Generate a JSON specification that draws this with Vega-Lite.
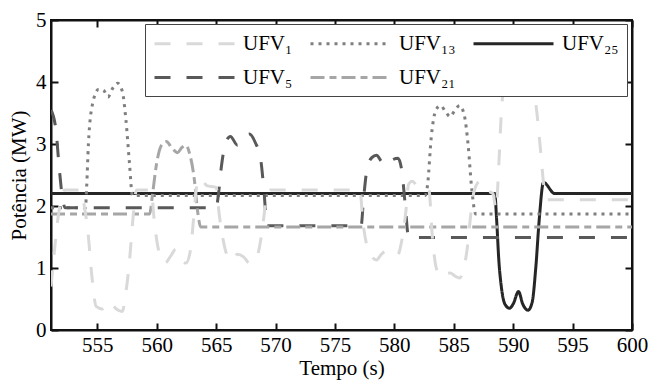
{
  "$schema": "https://vega.github.io/schema/vega-lite/v6.json",
  "width": 581,
  "height": 310,
  "autosize": {"type": "none"},
  "padding": {"left": 51, "top": 20, "right": 19, "bottom": 53},
  "background": "white",
  "title": {"text": "(a)", "font": "Liberation Serif", "fontSize": 21, "fontWeight": "normal", "color": "black", "anchor": "middle", "dx": -20, "offset": 6, "baseline": "alphabetic"},
  "config": {
    "view": {"stroke": null},
    "font": "Liberation Serif",
    "axis": {"grid": false, "labelFlush": false, "labelFont": "Liberation Serif", "titleFont": "Liberation Serif", "labelFontSize": 21, "titleFontSize": 21, "titleFontWeight": "normal", "labelColor": "black", "titleColor": "black", "domainColor": "#111", "domainWidth": 2, "tickColor": "#111", "tickWidth": 2, "tickSize": -7},
    "legend": {"orient": "none", "legendX": 94, "legendY": 4, "columns": 3, "direction": "horizontal", "title": null, "fillColor": "white", "strokeColor": "#444", "padding": 8, "symbolType": "M-1,0H7", "symbolSize": 400, "symbolOffset": 0, "symbolStrokeWidth": 3, "labelFont": "Liberation Serif", "labelFontSize": 21, "labelColor": "black", "labelOffset": 67, "columnPadding": 11, "rowPadding": 12, "labelLimit": 200}
  },
  "data": {"values": [
    {"s":"UFV₂₅","t":551.1,"v":2.2},{"s":"UFV₂₅","t":588.45,"v":2.2},{"s":"UFV₂₅","t":588.6,"v":1.8},{"s":"UFV₂₅","t":588.8,"v":1.1},{"s":"UFV₂₅","t":589.0,"v":0.7},{"s":"UFV₂₅","t":589.3,"v":0.42},{"s":"UFV₂₅","t":589.7,"v":0.35},{"s":"UFV₂₅","t":590.0,"v":0.42},{"s":"UFV₂₅","t":590.45,"v":0.62},{"s":"UFV₂₅","t":590.8,"v":0.42},{"s":"UFV₂₅","t":591.25,"v":0.32},{"s":"UFV₂₅","t":591.6,"v":0.45},{"s":"UFV₂₅","t":591.9,"v":1.0},{"s":"UFV₂₅","t":592.2,"v":1.8},{"s":"UFV₂₅","t":592.55,"v":2.38},{"s":"UFV₂₅","t":593.5,"v":2.2},{"s":"UFV₂₅","t":600,"v":2.2},

    {"s":"UFV₁₃","t":551.1,"v":1.97},{"s":"UFV₁₃","t":554.0,"v":1.97},{"s":"UFV₁₃","t":554.1,"v":2.3},{"s":"UFV₁₃","t":554.25,"v":3.0},{"s":"UFV₁₃","t":554.6,"v":3.65},{"s":"UFV₁₃","t":555.1,"v":3.88},{"s":"UFV₁₃","t":555.5,"v":3.87},{"s":"UFV₁₃","t":555.9,"v":3.76},{"s":"UFV₁₃","t":556.3,"v":3.9},{"s":"UFV₁₃","t":556.7,"v":3.98},{"s":"UFV₁₃","t":557.1,"v":3.85},{"s":"UFV₁₃","t":557.4,"v":3.4},{"s":"UFV₁₃","t":557.7,"v":2.7},{"s":"UFV₁₃","t":557.95,"v":2.17},{"s":"UFV₁₃","t":582.6,"v":2.17},{"s":"UFV₁₃","t":582.8,"v":2.35},{"s":"UFV₁₃","t":583.1,"v":3.1},{"s":"UFV₁₃","t":583.5,"v":3.55},{"s":"UFV₁₃","t":583.9,"v":3.62},{"s":"UFV₁₃","t":584.3,"v":3.52},{"s":"UFV₁₃","t":584.7,"v":3.44},{"s":"UFV₁₃","t":585.1,"v":3.55},{"s":"UFV₁₃","t":585.5,"v":3.62},{"s":"UFV₁₃","t":585.9,"v":3.45},{"s":"UFV₁₃","t":586.2,"v":3.0},{"s":"UFV₁₃","t":586.5,"v":2.3},{"s":"UFV₁₃","t":586.85,"v":1.87},{"s":"UFV₁₃","t":600,"v":1.87},

    {"s":"UFV₅","t":551.1,"v":3.55},{"s":"UFV₅","t":551.5,"v":3.25},{"s":"UFV₅","t":551.8,"v":2.6},{"s":"UFV₅","t":552.05,"v":2.15},{"s":"UFV₅","t":552.3,"v":1.97},{"s":"UFV₅","t":565.0,"v":1.97},{"s":"UFV₅","t":565.2,"v":2.2},{"s":"UFV₅","t":565.45,"v":2.65},{"s":"UFV₅","t":565.8,"v":3.02},{"s":"UFV₅","t":566.2,"v":3.12},{"s":"UFV₅","t":566.8,"v":2.98},{"s":"UFV₅","t":567.3,"v":3.1},{"s":"UFV₅","t":567.8,"v":3.16},{"s":"UFV₅","t":568.3,"v":3.02},{"s":"UFV₅","t":568.75,"v":2.75},{"s":"UFV₅","t":569.0,"v":2.3},{"s":"UFV₅","t":569.3,"v":1.68},{"s":"UFV₅","t":577.2,"v":1.68},{"s":"UFV₅","t":577.4,"v":2.1},{"s":"UFV₅","t":577.7,"v":2.6},{"s":"UFV₅","t":578.1,"v":2.78},{"s":"UFV₅","t":578.5,"v":2.82},{"s":"UFV₅","t":578.9,"v":2.72},{"s":"UFV₅","t":579.3,"v":2.66},{"s":"UFV₅","t":579.8,"v":2.74},{"s":"UFV₅","t":580.3,"v":2.77},{"s":"UFV₅","t":580.6,"v":2.6},{"s":"UFV₅","t":580.9,"v":2.05},{"s":"UFV₅","t":581.2,"v":1.49},{"s":"UFV₅","t":600,"v":1.49},

    {"s":"UFV₂₁","t":551.1,"v":1.87},{"s":"UFV₂₁","t":559.4,"v":1.87},{"s":"UFV₂₁","t":559.65,"v":2.2},{"s":"UFV₂₁","t":560.0,"v":2.7},{"s":"UFV₂₁","t":560.4,"v":2.98},{"s":"UFV₂₁","t":560.8,"v":3.04},{"s":"UFV₂₁","t":561.3,"v":2.93},{"s":"UFV₂₁","t":561.75,"v":2.86},{"s":"UFV₂₁","t":562.1,"v":2.94},{"s":"UFV₂₁","t":562.45,"v":2.98},{"s":"UFV₂₁","t":562.8,"v":2.82},{"s":"UFV₂₁","t":563.15,"v":2.45},{"s":"UFV₂₁","t":563.45,"v":1.9},{"s":"UFV₂₁","t":563.7,"v":1.66},{"s":"UFV₂₁","t":600,"v":1.66},

    {"s":"UFV₁","t":551.1,"v":0.7},{"s":"UFV₁","t":551.35,"v":1.2},{"s":"UFV₁","t":551.65,"v":1.75},{"s":"UFV₁","t":551.95,"v":2.1},{"s":"UFV₁","t":552.25,"v":2.26},{"s":"UFV₁","t":553.6,"v":2.26},{"s":"UFV₁","t":553.9,"v":2.0},{"s":"UFV₁","t":554.2,"v":1.6},{"s":"UFV₁","t":554.55,"v":0.85},{"s":"UFV₁","t":554.9,"v":0.38},{"s":"UFV₁","t":555.4,"v":0.34},{"s":"UFV₁","t":556.0,"v":0.46},{"s":"UFV₁","t":556.6,"v":0.34},{"s":"UFV₁","t":557.1,"v":0.3},{"s":"UFV₁","t":557.4,"v":0.6},{"s":"UFV₁","t":557.7,"v":1.1},{"s":"UFV₁","t":558.0,"v":1.8},{"s":"UFV₁","t":558.3,"v":2.26},{"s":"UFV₁","t":559.5,"v":2.26},{"s":"UFV₁","t":559.85,"v":1.65},{"s":"UFV₁","t":560.2,"v":1.25},{"s":"UFV₁","t":560.7,"v":1.08},{"s":"UFV₁","t":561.2,"v":1.2},{"s":"UFV₁","t":561.6,"v":1.3},{"s":"UFV₁","t":562.0,"v":1.15},{"s":"UFV₁","t":562.45,"v":1.08},{"s":"UFV₁","t":562.85,"v":1.3},{"s":"UFV₁","t":563.1,"v":1.8},{"s":"UFV₁","t":563.35,"v":2.3},{"s":"UFV₁","t":563.7,"v":2.45},{"s":"UFV₁","t":564.2,"v":2.33},{"s":"UFV₁","t":565.0,"v":2.3},{"s":"UFV₁","t":565.25,"v":1.88},{"s":"UFV₁","t":565.7,"v":1.35},{"s":"UFV₁","t":566.2,"v":1.12},{"s":"UFV₁","t":566.8,"v":1.22},{"s":"UFV₁","t":567.3,"v":1.18},{"s":"UFV₁","t":567.8,"v":1.08},{"s":"UFV₁","t":568.3,"v":1.12},{"s":"UFV₁","t":568.75,"v":1.45},{"s":"UFV₁","t":569.0,"v":1.8},{"s":"UFV₁","t":569.25,"v":2.15},{"s":"UFV₁","t":569.6,"v":2.26},{"s":"UFV₁","t":577.1,"v":2.26},{"s":"UFV₁","t":577.35,"v":1.75},{"s":"UFV₁","t":577.7,"v":1.35},{"s":"UFV₁","t":578.1,"v":1.18},{"s":"UFV₁","t":578.5,"v":1.13},{"s":"UFV₁","t":578.9,"v":1.22},{"s":"UFV₁","t":579.3,"v":1.27},{"s":"UFV₁","t":579.8,"v":1.22},{"s":"UFV₁","t":580.25,"v":1.2},{"s":"UFV₁","t":580.6,"v":1.42},{"s":"UFV₁","t":580.95,"v":1.88},{"s":"UFV₁","t":581.2,"v":2.35},{"s":"UFV₁","t":581.5,"v":2.4},{"s":"UFV₁","t":582.0,"v":2.3},{"s":"UFV₁","t":582.9,"v":2.26},{"s":"UFV₁","t":583.2,"v":1.5},{"s":"UFV₁","t":583.5,"v":1.02},{"s":"UFV₁","t":583.9,"v":0.86},{"s":"UFV₁","t":584.3,"v":0.9},{"s":"UFV₁","t":584.7,"v":0.92},{"s":"UFV₁","t":585.1,"v":0.87},{"s":"UFV₁","t":585.5,"v":0.84},{"s":"UFV₁","t":585.85,"v":1.0},{"s":"UFV₁","t":586.15,"v":1.34},{"s":"UFV₁","t":586.45,"v":1.9},{"s":"UFV₁","t":586.7,"v":2.23},{"s":"UFV₁","t":587.2,"v":2.4},{"s":"UFV₁","t":587.7,"v":2.26},{"s":"UFV₁","t":588.3,"v":2.2},{"s":"UFV₁","t":588.55,"v":1.95},{"s":"UFV₁","t":588.8,"v":2.7},{"s":"UFV₁","t":589.0,"v":3.5},{"s":"UFV₁","t":589.3,"v":4.0},{"s":"UFV₁","t":589.8,"v":4.15},{"s":"UFV₁","t":590.5,"v":3.95},{"s":"UFV₁","t":591.2,"v":4.15},{"s":"UFV₁","t":591.7,"v":3.9},{"s":"UFV₁","t":592.0,"v":3.5},{"s":"UFV₁","t":592.3,"v":2.9},{"s":"UFV₁","t":592.6,"v":2.3},{"s":"UFV₁","t":592.9,"v":2.1},{"s":"UFV₁","t":600,"v":2.1}
  ]},
  "resolve": {"axis": {"x": "independent", "y": "independent"}},
  "layer": [
    {
      "data": {"values": [{"a": 551.1, "b": 600, "c": 0, "d": 5}]},
      "mark": {"type": "rect", "fillOpacity": 0, "stroke": "#111", "strokeWidth": 2},
      "encoding": {
        "x": {"field": "a", "type": "quantitative", "scale": {"domain": [551.1, 600], "nice": false, "zero": false}, "axis": {"orient": "bottom", "values": [555,560,565,570,575,580,585,590,595,600], "title": "Tempo (s)", "labelPadding": 11, "titlePadding": 2}},
        "x2": {"field": "b"},
        "y": {"field": "c", "type": "quantitative", "scale": {"domain": [0, 5], "nice": false}, "axis": {"orient": "left", "values": [0,1,2,3,4,5], "title": "Potência (MW)", "labelPadding": 12, "titlePadding": 6}},
        "y2": {"field": "d"}
      }
    },
    {
      "mark": {"type": "line", "interpolate": "monotone", "clip": true, "strokeWidth": 3, "strokeCap": "butt"},
      "encoding": {
        "x": {"field": "t", "type": "quantitative", "axis": {"orient": "top", "values": [555,560,565,570,575,580,585,590,595,600], "labels": false, "title": null}},
        "y": {"field": "v", "type": "quantitative", "axis": {"orient": "right", "values": [0,1,2,3,4,5], "labels": false, "title": null}},
        "color": {"field": "s", "type": "nominal", "scale": {"domain": ["UFV₁","UFV₁₃","UFV₂₅","UFV₅","UFV₂₁"], "range": ["#d9d9d9","#7f7f7f","#262626","#595959","#a6a6a6"]}},
        "strokeDash": {"field": "s", "type": "nominal", "scale": {"domain": ["UFV₁","UFV₁₃","UFV₂₅","UFV₅","UFV₂₁"], "range": [[16,16],[3,5],[1,0],[16,16],[14,5,7,5]]}}
      }
    }
  ]
}
